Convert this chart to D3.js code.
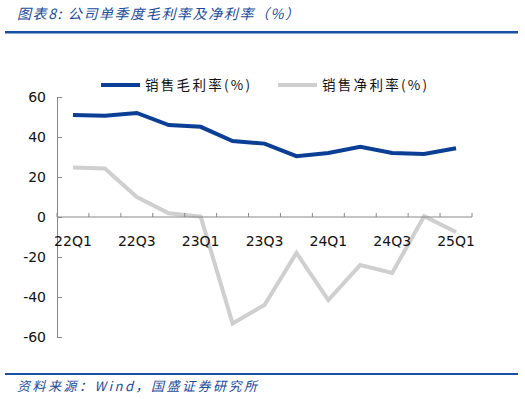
<!DOCTYPE html>
<html>
<head>
<meta charset="utf-8">
<script src="https://cdn.jsdelivr.net/npm/d3@7"></script>
<style>
  body { margin: 0; background: #fff; }
  svg { display: block; }
</style>
</head>
<body>
<div id="chart"></div>
<script>
// chart data
var quarters = ["22Q1","22Q2","22Q3","22Q4","23Q1","23Q2","23Q3","23Q4","24Q1","24Q2","24Q3","24Q4","25Q1"];
var grossMargin = [51, 50.6, 52, 46, 45.1, 38, 36.7, 30.4, 32, 35.1, 32, 31.5, 34.4];
var netMargin = [24.7, 24.2, 10, 1.9, 0.2, -53.2, -44, -18, -41.5, -24, -28, 0.4, -7.5];
var yTicks = [-60, -40, -20, 0, 20, 40, 60];
var xLabels = ["22Q1","22Q3","23Q1","23Q3","24Q1","24Q3","25Q1"];
var seriesNames = ["销售毛利率(%)", "销售净利率(%)"];

var W = 525, H = 399;
var plotLeft = 57, plotRight = 472, plotTop = 97, plotBottom = 337;
var blue = "#0b3f95", grey = "#cfcfcf", navy = "#1a4b9c";

var svg = d3.select("#chart")
	.append("svg")
	.attr("width", W)
	.attr("height", H)

// title + rules
svg.append("text")
	.attr("x", 17).attr("y", 19)
	.attr("font-family", "'Noto Sans CJK SC', sans-serif")
	.attr("font-size", 14)
	.attr("font-style", "italic")
	.attr("letter-spacing", 1.6)
	.attr("fill", navy)
	.text("图表8:  公司单季度毛利率及净利率（%）")

svg.append("rect").attr("x", 5).attr("y", 31).attr("width", 513).attr("height", 2.5).attr("fill", "#1750a5")
svg.append("rect").attr("x", 5).attr("y", 373).attr("width", 513).attr("height", 2).attr("fill", "#1750a5")

svg.append("text")
	.attr("x", 17).attr("y", 391)
	.attr("font-family", "'Noto Sans CJK SC', sans-serif")
	.attr("font-size", 13)
	.attr("font-style", "italic")
	.attr("letter-spacing", 2.5)
	.attr("fill", navy)
	.text("资料来源：Wind，国盛证券研究所")

// scales
var x = d3.scaleBand().domain(quarters).range([plotLeft, plotRight]);
var y = d3.scaleLinear().domain([-60, 60]).range([plotBottom, plotTop]);

var axisFont = "Tahoma, 'DejaVu Sans', sans-serif";

// lines
var line = d3.line()
	.x((d, i) => x(quarters[i]) + x.bandwidth() / 2)
	.y(d => y(d))

svg.append("path")
	.datum(netMargin)
	.attr("d", line)
	.attr("fill", "none")
	.attr("stroke", grey)
	.attr("stroke-width", 4)

svg.append("path")
	.datum(grossMargin)
	.attr("d", line)
	.attr("fill", "none")
	.attr("stroke", blue)
	.attr("stroke-width", 4)

// y axis (ticks point inward)
var yAxis = svg.append("g")
	.attr("transform", "translate(" + plotLeft + ",0)")
	.call(d3.axisRight(y).tickValues(yTicks).tickSize(5).tickFormat(d => String(d)))
yAxis.select(".domain").attr("stroke", "#888")
yAxis.selectAll(".tick line").attr("stroke", "#888")
yAxis.selectAll(".tick text")
	.attr("x", -11)
	.attr("text-anchor", "end")
	.attr("font-family", axisFont)
	.attr("font-size", 14)
	.attr("fill", "#111")

// x axis on zero line, ticks at category boundaries pointing up
var xAxisG = svg.append("g").attr("transform", "translate(0," + y(0) + ")");
xAxisG.append("line")
	.attr("x1", plotLeft).attr("x2", plotRight)
	.attr("stroke", "#888")
xAxisG.selectAll("line.tk")
	.data(d3.range(quarters.length + 1))
	.enter().append("line")
	.attr("class", "tk")
	.attr("x1", i => plotLeft + i * x.step())
	.attr("x2", i => plotLeft + i * x.step())
	.attr("y1", 0).attr("y2", -4)
	.attr("stroke", "#888")
xAxisG.selectAll("text")
	.data(xLabels)
	.enter().append("text")
	.attr("x", d => x(d) + x.bandwidth() / 2)
	.attr("y", 29)
	.attr("text-anchor", "middle")
	.attr("font-family", axisFont)
	.attr("font-size", 14)
	.attr("fill", "#111")
	.text(d => d)

// legend
var legend = [
	{ name: seriesNames[0], color: blue, x: 101 },
	{ name: seriesNames[1], color: grey, x: 278 }
];
var lg = svg.selectAll("g.legend")
	.data(legend)
	.enter().append("g")
	.attr("class", "legend")
	.attr("transform", d => "translate(" + d.x + ",85)")
lg.append("line")
	.attr("x1", 0).attr("x2", 39)
	.attr("stroke", d => d.color)
	.attr("stroke-width", 4)
lg.append("text")
	.attr("x", 44).attr("y", 5)
	.attr("font-family", "'Noto Sans CJK SC', sans-serif")
	.attr("font-size", 13.5)
	.attr("letter-spacing", 2.3)
	.attr("fill", "#111")
	.text(d => d.name)
</script>
</body>
</html>
